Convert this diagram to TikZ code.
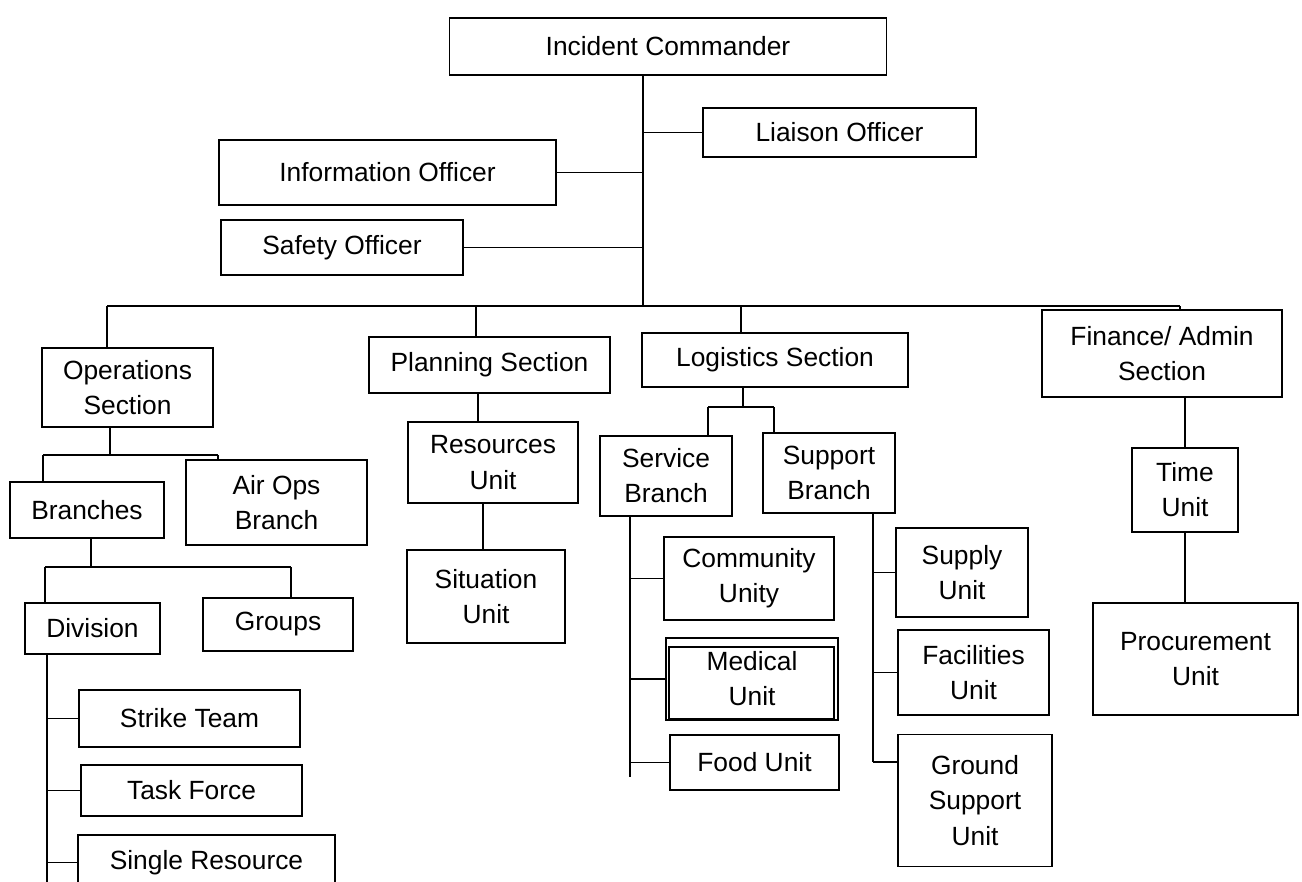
\documentclass[tikz,border=0pt]{standalone}
\usepackage{fontspec}
\setmainfont{Liberation Sans}

\begin{document}
\begin{tikzpicture}[x=0.02cm, y=-0.02cm, line width=0.9pt,
    box/.style={draw, align=center, inner sep=0pt, font=\fontsize{15}{20}\selectfont},
    wh/.style 2 args={minimum width=#1*0.02cm, minimum height=#2*0.02cm}]
    \clip (0,0) rectangle (1302,882);
    % command staff
    \node[box, wh={437}{57}] (ic) at (668,46.5) {Incident Commander};
    \node[box, wh={273}{49}] (liaison) at (839.5,132.5) {Liaison Officer};
    \node[box, wh={337}{65}] (info) at (387.5,172.5) {Information Officer};
    \node[box, wh={242}{55}] (safety) at (342,247.5) {Safety Officer};
    % sections
    \node[box, wh={171}{79}] (ops) at (127.5,387.5) {Operations\\Section};
    \node[box, wh={241}{56}] (plan) at (489.5,365) {Planning Section};
    \node[box, wh={266}{54}] (logi) at (775,360) {Logistics Section};
    \node[box, wh={240}{87}] (fin) at (1162,353.5) {Finance/ Admin\\Section};
    % operations
    \node[box, wh={154}{56}] (branches) at (87,510) {Branches};
    \node[box, wh={181}{85}] (airops) at (276.5,502.5) {Air Ops\\Branch};
    \node[box, wh={135}{51}] (division) at (92.5,628.5) {Division};
    \node[box, wh={150}{53}] (groups) at (278,624.5) {Groups};
    \node[box, wh={221}{57}] (strike) at (189.5,718.5) {Strike Team};
    \node[box, wh={221}{51}] (task) at (191.5,790.5) {Task Force};
    \node[box, wh={257}{55}] (single) at (206.5,862.5) {Single Resource};
    % planning
    \node[box, wh={170}{81}] (resources) at (493,462.5) {Resources\\Unit};
    \node[box, wh={158}{93}] (situation) at (486,596.5) {Situation\\Unit};
    % logistics
    \node[box, wh={132}{80}] (service) at (666,476) {Service\\Branch};
    \node[box, wh={132}{80}] (support) at (829,473) {Support\\Branch};
    \node[box, wh={170}{83}] (community) at (749,578.5) {Community\\Unity};
    \node[box, wh={172}{82}] (medical) at (752,679) {Medical\\Unit};
    \node[box, wh={169}{55}] (food) at (754.5,762.5) {Food Unit};
    \node[box, wh={132}{89}] (supply) at (962,572.5) {Supply\\Unit};
    \node[box, wh={151}{85}] (facilities) at (973.5,672.5) {Facilities\\Unit};
    \node[box, wh={154}{132}] (ground) at (975,800.5) {Ground\\Support\\Unit};
    % finance
    \node[box, wh={106}{84}] (time) at (1185,490) {Time\\Unit};
    \node[box, wh={205}{112}] (procure) at (1195.5,659) {Procurement\\Unit};
    \draw ([shift={(4,10)}]medical.north west) rectangle ([shift={(-5,-2)}]medical.south east);

    % trunk and bus
    \coordinate (trunk) at (643,306);
    \coordinate (busL) at (107,306);
    \coordinate (busR) at (1180,306);
    \coordinate (bplan) at (476,306);
    \coordinate (blogi) at (741,306);
    \draw (ic.south -| trunk) -- (trunk);
    \draw (liaison.west) -- (liaison.west -| trunk);
    \draw (info.east) -- (info.east -| trunk);
    \draw (safety.east) -- (safety.east -| trunk);
    \draw (busL) -- (busR);
    \draw (busL) -- (busL |- ops.north);
    \draw (bplan) -- (bplan |- plan.north);
    \draw (blogi) -- (blogi |- logi.north);
    \draw (busR) -- (busR |- fin.north);

    % operations lines
    \coordinate (opsdrop) at (110,455);
    \coordinate (obL) at (43,455);
    \coordinate (obR) at (218,455);
    \draw (opsdrop |- ops.south) -- (opsdrop);
    \draw (obL) -- (obR);
    \draw (obL) -- (obL |- branches.north);
    \draw (obR) -- (obR |- airops.north);
    \coordinate (brdrop) at (91,567);
    \coordinate (dbL) at (45,567);
    \coordinate (dbR) at (291,567);
    \draw (brdrop |- branches.south) -- (brdrop);
    \draw (dbL) -- (dbR);
    \draw (dbL) -- (dbL |- division.north);
    \draw (dbR) -- (dbR |- groups.north);
    \coordinate (dv) at (47,882);
    \draw (dv |- division.south) -- (dv);
    \draw (strike.west) -- (strike.west -| dv);
    \draw (task.west) -- (task.west -| dv);
    \draw (single.west) -- (single.west -| dv);

    % planning lines
    \coordinate (pr) at (478,0);
    \coordinate (rs) at (483,0);
    \draw (plan.south -| pr) -- (resources.north -| pr);
    \draw (resources.south -| rs) -- (situation.north -| rs);

    % logistics lines
    \coordinate (ld) at (743,407);
    \coordinate (lbL) at (708,407);
    \coordinate (lbR) at (774,407);
    \draw (ld |- logi.south) -- (ld);
    \draw (lbL) -- (lbR);
    \draw (lbL) -- (lbL |- service.north);
    \draw (lbR) -- (lbR |- support.north);
    \coordinate (sv) at (630,777);
    \draw (sv |- service.south) -- (sv);
    \draw (community.west) -- (community.west -| sv);
    \draw (medical.west) -- (medical.west -| sv);
    \draw (food.west) -- (food.west -| sv);
    \coordinate (spv) at (873,762);
    \draw (spv |- support.south) -- (spv);
    \draw (supply.west) -- (supply.west -| spv);
    \draw (facilities.west) -- (facilities.west -| spv);
    \draw (spv) -- (spv -| ground.west);

    % finance lines
    \draw (time.north |- fin.south) -- (time.north);
    \draw (time.south) -- (time.south |- procure.north);
\end{tikzpicture}
\end{document}
